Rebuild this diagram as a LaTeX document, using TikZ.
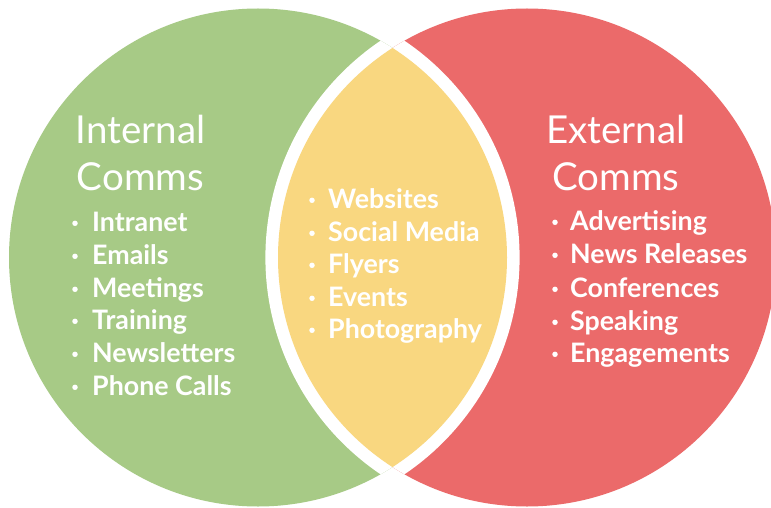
\documentclass[tikz,border=0pt]{standalone}
\usepackage{fontspec}
\setmainfont{Lato}
\definecolor{cgreen}{HTML}{A7CA86}
\definecolor{cred}{HTML}{EB6A6A}
\definecolor{cyellow}{HTML}{F9D780}
\begin{document}
\begin{tikzpicture}[x=1pt,y=-1pt,
  title/.style={text=white, font=\fontsize{38.5}{47}\selectfont, inner sep=0pt, anchor=base},
  item/.style={text=white, font=\fontsize{26.8}{30}\selectfont\bfseries, inner sep=0pt, anchor=base west},
  dot/.style={circle, fill=white, minimum size=5.5pt, inner sep=0pt},
  gap/.style={draw=white, line width=25.2pt}]
\useasboundingbox (0,0) rectangle (771,508);
\fill[white] (0,0) rectangle (771,508);
\coordinate (gc) at (258,257.5);
\coordinate (rc) at (527,257.5);
\fill[cgreen] (gc) circle (249);
\fill[cred] (rc) circle (249);
\begin{scope}
  \clip (gc) circle (249);
  \path[gap] (rc) circle (249);
\end{scope}
\begin{scope}
  \clip (rc) circle (249);
  \path[gap] (gc) circle (249);
\end{scope}
\begin{scope}
  \clip (gc) circle (249);
  \fill[cyellow] (rc) circle (249);
\end{scope}
% titles
\node[title] (lt1) at (140.5,143) {Internal};
\node[title] (lt2) at (140.5,190) {Comms};
\node[title] (rt1) at (616,143) {External};
\node[title] (rt2) at (616,190) {Comms};
% left list
\node[dot] (lb1) at (75,223.3) {}; \node[item] (l1) at (92,231) {Intranet};
\node[dot] (lb2) at (75,256.3) {}; \node[item] (l2) at (92,264) {Emails};
\node[dot] (lb3) at (75,289.3) {}; \node[item] (l3) at (92,297) {Meetings};
\node[dot] (lb4) at (75,321.3) {}; \node[item] (l4) at (92,329) {Training};
\node[dot] (lb5) at (75,354.3) {}; \node[item] (l5) at (92,362) {Newsletters};
\node[dot] (lb6) at (75,387.3) {}; \node[item] (l6) at (92,395) {Phone Calls};
% centre list
\node[dot] (cb1) at (312,200.3) {}; \node[item] (c1) at (328,208) {Websites};
\node[dot] (cb2) at (312,233.3) {}; \node[item] (c2) at (328,241) {Social Media};
\node[dot] (cb3) at (312,265.3) {}; \node[item] (c3) at (328,273) {Flyers};
\node[dot] (cb4) at (312,298.3) {}; \node[item] (c4) at (328,306) {Events};
\node[dot] (cb5) at (312,330.3) {}; \node[item] (c5) at (328,338) {Photography};
% right list
\node[dot] (rb1) at (555,222.3) {}; \node[item] (r1) at (570,230) {Advertising};
\node[dot] (rb2) at (555,255.3) {}; \node[item] (r2) at (570,263) {News Releases};
\node[dot] (rb3) at (555,289.3) {}; \node[item] (r3) at (570,297) {Conferences};
\node[dot] (rb4) at (555,322.3) {}; \node[item] (r4) at (570,330) {Speaking};
\node[dot] (rb5) at (555,354.3) {}; \node[item] (r5) at (570,362) {Engagements};
\end{tikzpicture}
\end{document}
